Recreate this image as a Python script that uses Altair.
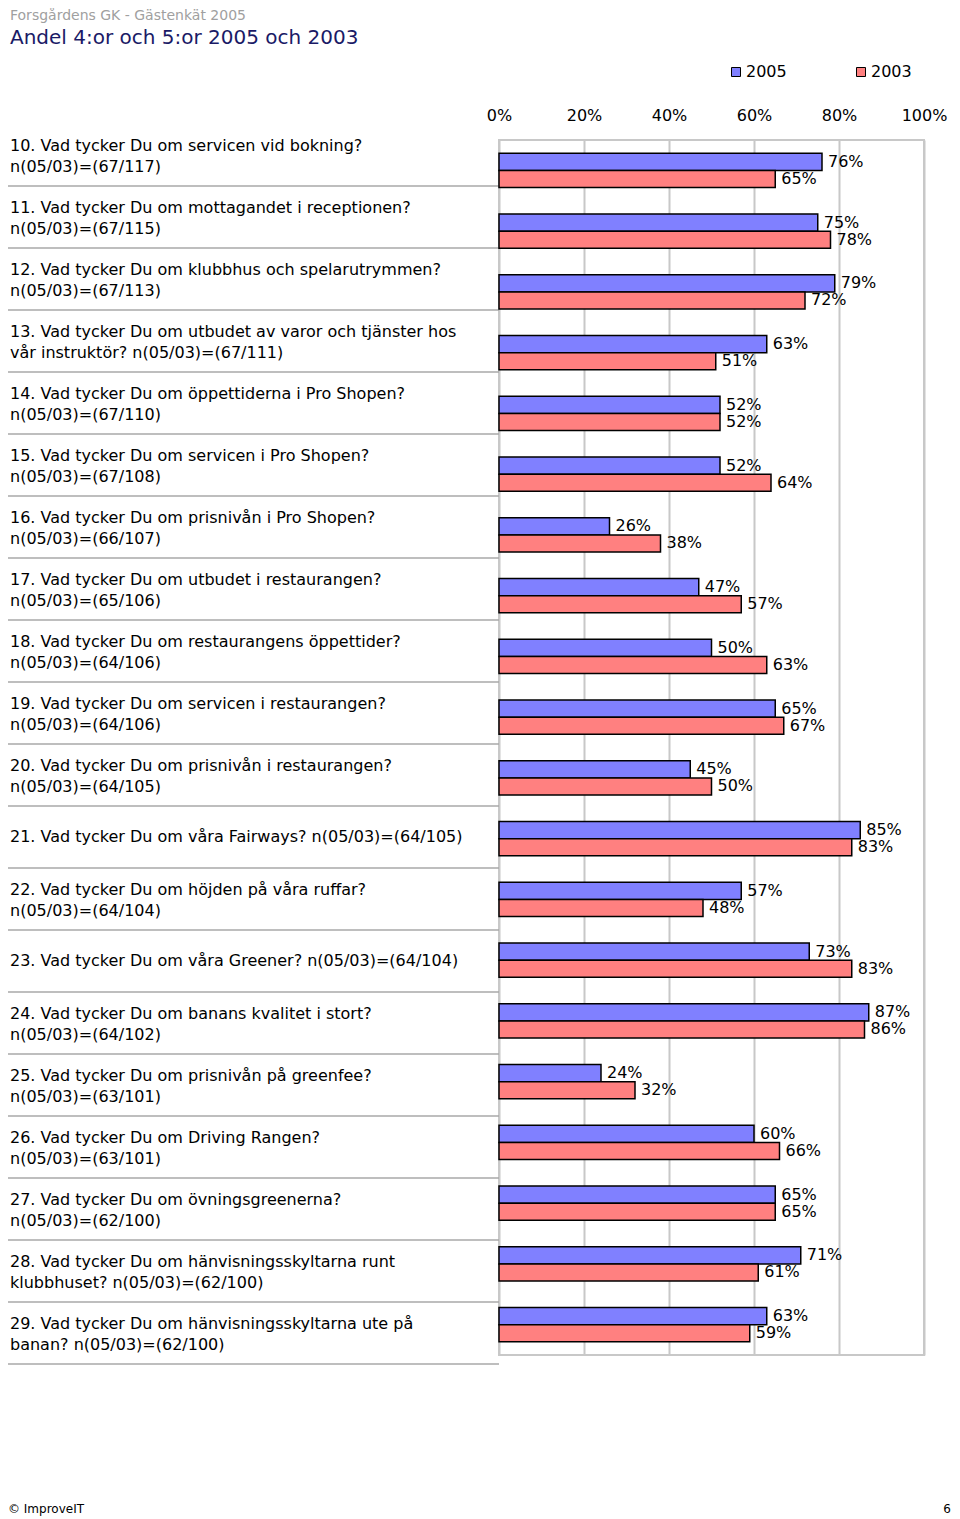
import altair as alt
import pandas as pd

FONT = "DejaVu Sans"

header_text = ["Forsgårdens GK - Gästenkät 2005"]
title_text = ["Andel 4:or och 5:or 2005 och 2003"]
footer_left = ["© ImproveIT"]
footer_right = ["6"]

qids = [str(i) for i in range(10, 30)]
questions = [
    "10. Vad tycker Du om servicen vid bokning?\nn(05/03)=(67/117)",
    "11. Vad tycker Du om mottagandet i receptionen?\nn(05/03)=(67/115)",
    "12. Vad tycker Du om klubbhus och spelarutrymmen?\nn(05/03)=(67/113)",
    "13. Vad tycker Du om utbudet av varor och tjänster hos\nvår instruktör? n(05/03)=(67/111)",
    "14. Vad tycker Du om öppettiderna i Pro Shopen?\nn(05/03)=(67/110)",
    "15. Vad tycker Du om servicen i Pro Shopen?\nn(05/03)=(67/108)",
    "16. Vad tycker Du om prisnivån i Pro Shopen?\nn(05/03)=(66/107)",
    "17. Vad tycker Du om utbudet i restaurangen?\nn(05/03)=(65/106)",
    "18. Vad tycker Du om restaurangens öppettider?\nn(05/03)=(64/106)",
    "19. Vad tycker Du om servicen i restaurangen?\nn(05/03)=(64/106)",
    "20. Vad tycker Du om prisnivån i restaurangen?\nn(05/03)=(64/105)",
    "21. Vad tycker Du om våra Fairways? n(05/03)=(64/105)",
    "22. Vad tycker Du om höjden på våra ruffar?\nn(05/03)=(64/104)",
    "23. Vad tycker Du om våra Greener? n(05/03)=(64/104)",
    "24. Vad tycker Du om banans kvalitet i stort?\nn(05/03)=(64/102)",
    "25. Vad tycker Du om prisnivån på greenfee?\nn(05/03)=(63/101)",
    "26. Vad tycker Du om Driving Rangen?\nn(05/03)=(63/101)",
    "27. Vad tycker Du om övningsgreenerna?\nn(05/03)=(62/100)",
    "28. Vad tycker Du om hänvisningsskyltarna runt\nklubbhuset? n(05/03)=(62/100)",
    "29. Vad tycker Du om hänvisningsskyltarna ute på\nbanan? n(05/03)=(62/100)",
]
v2005 = [76, 75, 79, 63, 52, 52, 26, 47, 50, 65, 45, 85, 57, 73, 87, 24, 60, 65, 71, 63]
v2003 = [65, 78, 72, 51, 52, 64, 38, 57, 63, 67, 50, 83, 48, 83, 86, 32, 66, 65, 61, 59]
years = ["2005", "2003"]
colors = ["#8080ff", "#ff8080"]
ticks = [0, 20, 40, 60, 80, 100]

rows = []
for qid, a, b in zip(qids, v2005, v2003):
    rows.append({"qid": qid, "year": "2005", "value": a})
    rows.append({"qid": qid, "year": "2003", "value": b})
df = pd.DataFrame(rows)
labels_df = pd.DataFrame({"qid": qids, "text": questions})

W, H = 425, 1215
FS = 16

y_bar = alt.Y("qid:N", sort=qids, axis=None,
              scale=alt.Scale(domain=qids, paddingInner=0.44, paddingOuter=0.22))
y_off = alt.YOffset("year:N", sort=years,
                    scale=alt.Scale(domain=years, paddingInner=0, paddingOuter=0))

bars = alt.Chart(df).mark_bar(stroke="black", strokeWidth=1.5).encode(
    x=alt.X("value:Q", scale=alt.Scale(domain=[0, 100]),
            axis=alt.Axis(orient="top", values=ticks, labelExpr="datum.value + '%'",
                          title=None, ticks=False, domain=False, labelFontSize=FS,
                          labelFont=FONT, labelColor="black", labelPadding=17,
                          labelFlush=False,
                          grid=True, gridColor="#c8c8c8", gridWidth=2)),
    y=y_bar,
    yOffset=y_off,
    fill=alt.Fill("year:N", sort=years,
                  scale=alt.Scale(domain=years, range=colors),
                  legend=alt.Legend(title=None, orient="none", legendX=229, legendY=-76,
                                    direction="horizontal", symbolType="square",
                                    symbolSize=81, symbolStrokeColor="black",
                                    symbolStrokeWidth=1, labelFontSize=FS, labelFont=FONT,
                                    labelColor="black", columnPadding=66, labelOffset=2)),
)

vals = alt.Chart(df).transform_calculate(
    label="datum.value + '%'"
).mark_text(align="left", baseline="middle", dx=6, fontSize=FS, font=FONT,
            color="black").encode(
    x=alt.X("value:Q"),
    y=y_bar,
    yOffset=y_off,
    text="label:N",
)

lab_scale = alt.Scale(domain=qids, range=[-16, 1224], paddingInner=0, paddingOuter=0)
y_lab = alt.Y("qid:N", sort=qids, axis=None, scale=lab_scale)

labels_two = alt.Chart(labels_df).transform_filter(
    "indexof(datum.text, '\\n') >= 0"
).mark_text(
    align="left", baseline="middle", lineBreak="\n", lineHeight=21, dy=-9.5,
    fontSize=FS, font=FONT, color="black"
).encode(y=y_lab, x=alt.value(-489), text="text:N")

labels_one = alt.Chart(labels_df).transform_filter(
    "indexof(datum.text, '\\n') < 0"
).mark_text(
    align="left", baseline="middle", fontSize=FS, font=FONT, color="black"
).encode(y=y_lab, x=alt.value(-489), text="text:N")

seps = alt.Chart(labels_df).mark_rule(color="#a8a8a8", strokeWidth=1.5).encode(
    y=alt.Y("qid:N", sort=qids, axis=None, bandPosition=1, scale=lab_scale),
    x=alt.value(-491), x2=alt.value(0),
)


def txt(data, x, y, size, color, align="left", baseline="middle"):
    return alt.Chart(pd.DataFrame({"t": data})).mark_text(
        align=align, baseline=baseline, fontSize=size, font=FONT, color=color
    ).encode(x=alt.value(x), y=alt.value(y), text="t:N")


head = txt(header_text, -489, -131, 14, "#a0a0a0", baseline="top")
title = txt(title_text, -489, -102, 20, "#1a1a66")
foot1 = txt(footer_left, -491, 1369, 12, "black")
foot2 = txt(footer_right, 452, 1369, 12, "black", align="right")

chart = alt.layer(seps, labels_two, labels_one, bars, vals, head, title, foot1, foot2).resolve_scale(
    y="independent"
).properties(
    width=W, height=H,
    autosize=alt.AutoSizeParams(type="none"),
    padding={"left": 491, "top": 132, "right": 28, "bottom": 164},
).configure_view(stroke="#c8c8c8", strokeWidth=2)

chart.save("out.html", embed_options={"renderer": "svg", "actions": False})
